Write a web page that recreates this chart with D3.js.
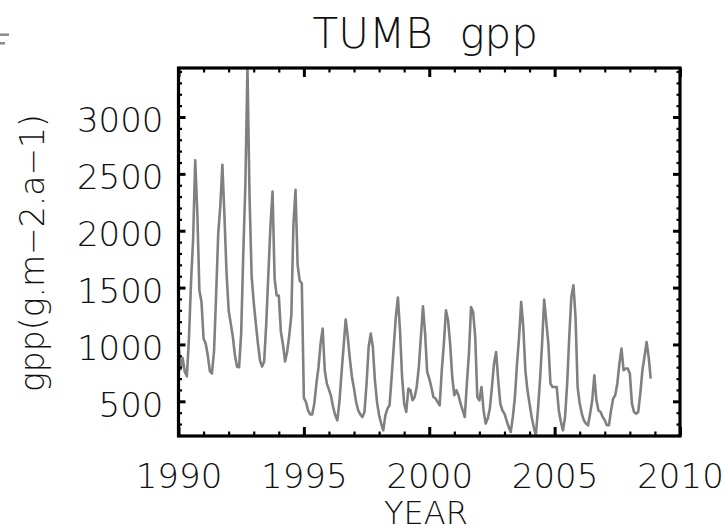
<!DOCTYPE html>
<html>
<head>
<meta charset="utf-8">
<script src="https://cdn.jsdelivr.net/npm/d3@7"></script>
<style>
  html, body { margin: 0; padding: 0; background: #fff; }
  svg { display: block; }
  text { font-family: "DejaVu Sans", sans-serif; fill: #111; }
</style>
</head>
<body>
<svg id="chart" width="725" height="532"></svg>
<script>
// ---- data (monthly GPP, g.m-2.a-1) ----
const startYear = 1990;
const gpp1990 = [1000, 780, 880, 760, 720, 1050, 1550, 1930, 2620, 2160, 1475, 1374];
const gpp1991 = [1050, 1010, 905, 765, 745, 940, 1430, 1970, 2215, 2580, 2125, 1625];
const gpp1992 = [1300, 1185, 1070, 905, 805, 800, 1100, 1800, 2400, 3440, 2300, 1600];
const gpp1993 = [1370, 1185, 1010, 860, 805, 850, 1185, 1620, 2040, 2345, 1575, 1430];
const gpp1994 = [1430, 1110, 1000, 850, 935, 1080, 1255, 2050, 2360, 1700, 1560, 1540];
const gpp1995 = [530, 494, 420, 385, 385, 480, 655, 800, 1010, 1140, 773, 655];
const gpp1996 = [603, 545, 450, 377, 333, 494, 744, 978, 1220, 1066, 876, 714];
const gpp1997 = [612, 494, 420, 385, 362, 406, 655, 978, 1096, 978, 685, 494];
const gpp1998 = [377, 304, 245, 377, 436, 465, 714, 978, 1242, 1413, 1125, 714];
const gpp1999 = [480, 406, 612, 597, 509, 538, 626, 800, 1066, 1336, 1100, 758];
const gpp2000 = [700, 626, 538, 524, 494, 465, 773, 1008, 1301, 1213, 1008, 714];
const gpp2001 = [553, 597, 553, 480, 420, 362, 655, 920, 1330, 1286, 1066, 538];
const gpp2002 = [509, 626, 420, 304, 348, 436, 626, 832, 934, 685, 480, 420];
const gpp2003 = [392, 333, 274, 230, 362, 538, 832, 1066, 1374, 1154, 773, 597];
const gpp2004 = [480, 362, 274, 201, 420, 685, 1008, 1395, 1200, 1008, 655, 626];
const gpp2005 = [626, 626, 420, 318, 245, 362, 655, 1066, 1418, 1521, 1242, 626];
const gpp2006 = [480, 392, 333, 304, 289, 392, 509, 729, 509, 420, 406, 362];
const gpp2007 = [333, 289, 289, 420, 524, 553, 655, 832, 964, 773, 788, 788];
const gpp2008 = [744, 480, 406, 392, 406, 568, 773, 890, 1022, 890, 700];

const xTickValues = [1990, 1995, 2000, 2005, 2010];
const yTickValues = [500, 1000, 1500, 2000, 2500, 3000];
const xDomain = [1990, 2010];
const yDomain = [195, 3431];
const titleText = "TUMB  gpp";
const xLabelText = "YEAR";
const yLabelText = "gpp(g.m\u22122.a\u22121)";

// ---- build series ----
const allYears = [gpp1990, gpp1991, gpp1992, gpp1993, gpp1994, gpp1995, gpp1996,
  gpp1997, gpp1998, gpp1999, gpp2000, gpp2001, gpp2002, gpp2003, gpp2004,
  gpp2005, gpp2006, gpp2007, gpp2008];
const series = [];
allYears.forEach((arr, yi) => arr.forEach((v, m) => series.push({ t: startYear + yi + m / 12, v })));

// ---- layout ----
const svg = d3.select("#chart");
const L = 178.5, R = 680, T = 68, B = 436;
const x = d3.scaleLinear().domain(xDomain).range([L, R]);
const y = d3.scaleLinear().domain(yDomain).range([B, T]);

const xMinor = d3.range(1990, 2011, 1).filter(v => v % 5 !== 0);
const yMinor = d3.range(200, 3431, 100).filter(v => v % 500 !== 0);

svg.append("defs").append("clipPath").attr("id", "clip")
  .append("rect").attr("x", L).attr("y", T).attr("width", R - L).attr("height", B - T);

// data line
const line = d3.line().x(d => x(d.t)).y(d => y(d.v));
svg.append("path")
  .datum(series)
  .attr("clip-path", "url(#clip)")
  .attr("d", line)
  .attr("fill", "none")
  .attr("stroke", "#808080")
  .attr("stroke-width", 2.6)
  .attr("stroke-linejoin", "round");

function styleAxis(g, w) {
  g.select(".domain").remove();
  g.selectAll(".tick line").attr("stroke", "#000").attr("stroke-width", w);
}

// left axis (major + labels)
const gLeft = svg.append("g").attr("transform", `translate(${L},0)`)
  .call(d3.axisLeft(y).tickValues(yTickValues).tickSize(-7).tickPadding(15).tickFormat(d3.format("d")));
styleAxis(gLeft, 3);
gLeft.selectAll("text").attr("font-size", 34).attr("dy", "0.44em").attr("fill", "#111")
  .attr("font-family", "DejaVu Sans, sans-serif").attr("font-weight", 200);
const gLeftMin = svg.append("g").attr("transform", `translate(${L},0)`)
  .call(d3.axisLeft(y).tickValues(yMinor).tickSize(-3.5).tickFormat(""));
styleAxis(gLeftMin, 2.2);

// right axis
const gRight = svg.append("g").attr("transform", `translate(${R},0)`)
  .call(d3.axisRight(y).tickValues(yTickValues).tickSize(-7).tickFormat(""));
styleAxis(gRight, 3);
const gRightMin = svg.append("g").attr("transform", `translate(${R},0)`)
  .call(d3.axisRight(y).tickValues(yMinor).tickSize(-3.5).tickFormat(""));
styleAxis(gRightMin, 2.2);

// bottom axis
const gBottom = svg.append("g").attr("transform", `translate(0,${B})`)
  .call(d3.axisBottom(x).tickValues(xTickValues).tickSize(-9).tickPadding(28).tickFormat(d3.format("d")));
styleAxis(gBottom, 3);
gBottom.selectAll("text").attr("font-size", 34).attr("fill", "#111")
  .attr("font-family", "DejaVu Sans, sans-serif").attr("font-weight", 200);
const gBottomMin = svg.append("g").attr("transform", `translate(0,${B})`)
  .call(d3.axisBottom(x).tickValues(xMinor).tickSize(-4.5).tickFormat(""));
styleAxis(gBottomMin, 2.2);

// top axis
const gTop = svg.append("g").attr("transform", `translate(0,${T})`)
  .call(d3.axisTop(x).tickValues(xTickValues).tickSize(-9).tickFormat(""));
styleAxis(gTop, 3);
const gTopMin = svg.append("g").attr("transform", `translate(0,${T})`)
  .call(d3.axisTop(x).tickValues(xMinor).tickSize(-4.5).tickFormat(""));
styleAxis(gTopMin, 2.2);

// frame
svg.append("rect").attr("x", L).attr("y", T).attr("width", R - L).attr("height", B - T)
  .attr("fill", "none").attr("stroke", "#000").attr("stroke-width", 3.2);

// title
svg.append("text").attr("x", (L + R) / 2 - 4).attr("y", 48)
  .attr("text-anchor", "middle").attr("font-size", 42).attr("font-weight", 200)
  .style("white-space", "pre").text(titleText);

// x label
svg.append("text").attr("x", 426).attr("y", 524)
  .attr("text-anchor", "middle").attr("font-size", 32).attr("font-weight", 200)
  .text(xLabelText);

// y label
svg.append("text").attr("transform", `translate(44,${(T + B) / 2 + 1}) rotate(-90)`)
  .attr("text-anchor", "middle").attr("font-size", 33).attr("font-weight", 200)
  .text(yLabelText);

// clipped glyph remnant at the top-left edge
svg.append("line").attr("x1", 0).attr("x2", 9).attr("y1", 34.7).attr("y2", 34.7)
  .attr("stroke", "#8a8a8a").attr("stroke-width", 2.5);
svg.append("line").attr("x1", 0).attr("x2", 5).attr("y1", 43.3).attr("y2", 43.3)
  .attr("stroke", "#8a8a8a").attr("stroke-width", 2.5);
</script>
</body>
</html>
